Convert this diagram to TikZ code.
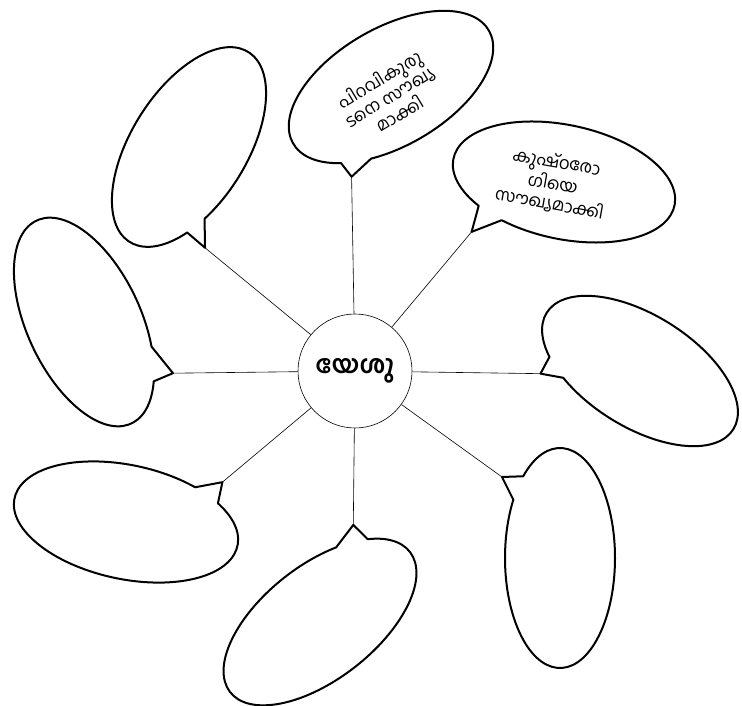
\documentclass[tikz,border=0pt]{standalone}
\usepackage{fontspec}
\newfontfamily\mlfont[Script=Malayalam]{Hind Kochi}
\tikzset{bubble/.style={line width=2pt,line join=round,line cap=round},spoke/.style={line width=.6pt},
  every node/.style={font=\mlfont},deed/.style={align=center,font=\mlfont\fontsize{17}{20}\selectfont}}

\begin{document}
\begin{tikzpicture}[x=1pt,y=-1pt]
\useasboundingbox (0,0) rectangle (742,706);
\node[draw,circle,minimum size=114pt,inner sep=0pt,line width=.6pt,font=\mlfont\bfseries\fontsize{25}{30}\selectfont] (jesus) at (355,371) {യേശു};
% bubbles: centre, turn, radii, open arc, tip
\foreach \cx/\cy/\rot/\ra/\rb/\s/\e/\u/\v/\nm in {391/87/30/113/59/136/478/-79/58/b1,564/182/-12/113/57/134/478/-80/68/b2,
  640/371/-32/110/56/140/484/-83/55/b3,560/558/90/110/55/-42/302/81/-58/b4,320/622/38/114/57/-39/301/86/-56/b5,
  126/522/-12/114/57/-41/302/86/-59/b6,84/322/-65/112/57/-42/297/84/-59/b7,189/147/58/112/58/131/478/-77/67/b8}{
  \begin{scope}[shift={(\cx,\cy)},rotate=\rot]
  \draw[bubble] (\s:{\ra} and {\rb}) arc[start angle=\s,end angle=\e,x radius=\ra,y radius=\rb] -- (\u,\v) coordinate (\nm) -- cycle;
  \end{scope}}
\foreach \i in {1,...,8} \draw[spoke] (jesus) -- (b\i);
\node[deed,rotate=31] (heal1) at (389,96) {പിറവികുരു\\ടനെ സൗഖ്യ\\മാക്കി};
\node[deed,rotate=-10] (heal2) at (553,183) {കുഷ്‌ഠരോ\\ഗിയെ\\സൗഖ്യമാക്കി};
\end{tikzpicture}
\end{document}
